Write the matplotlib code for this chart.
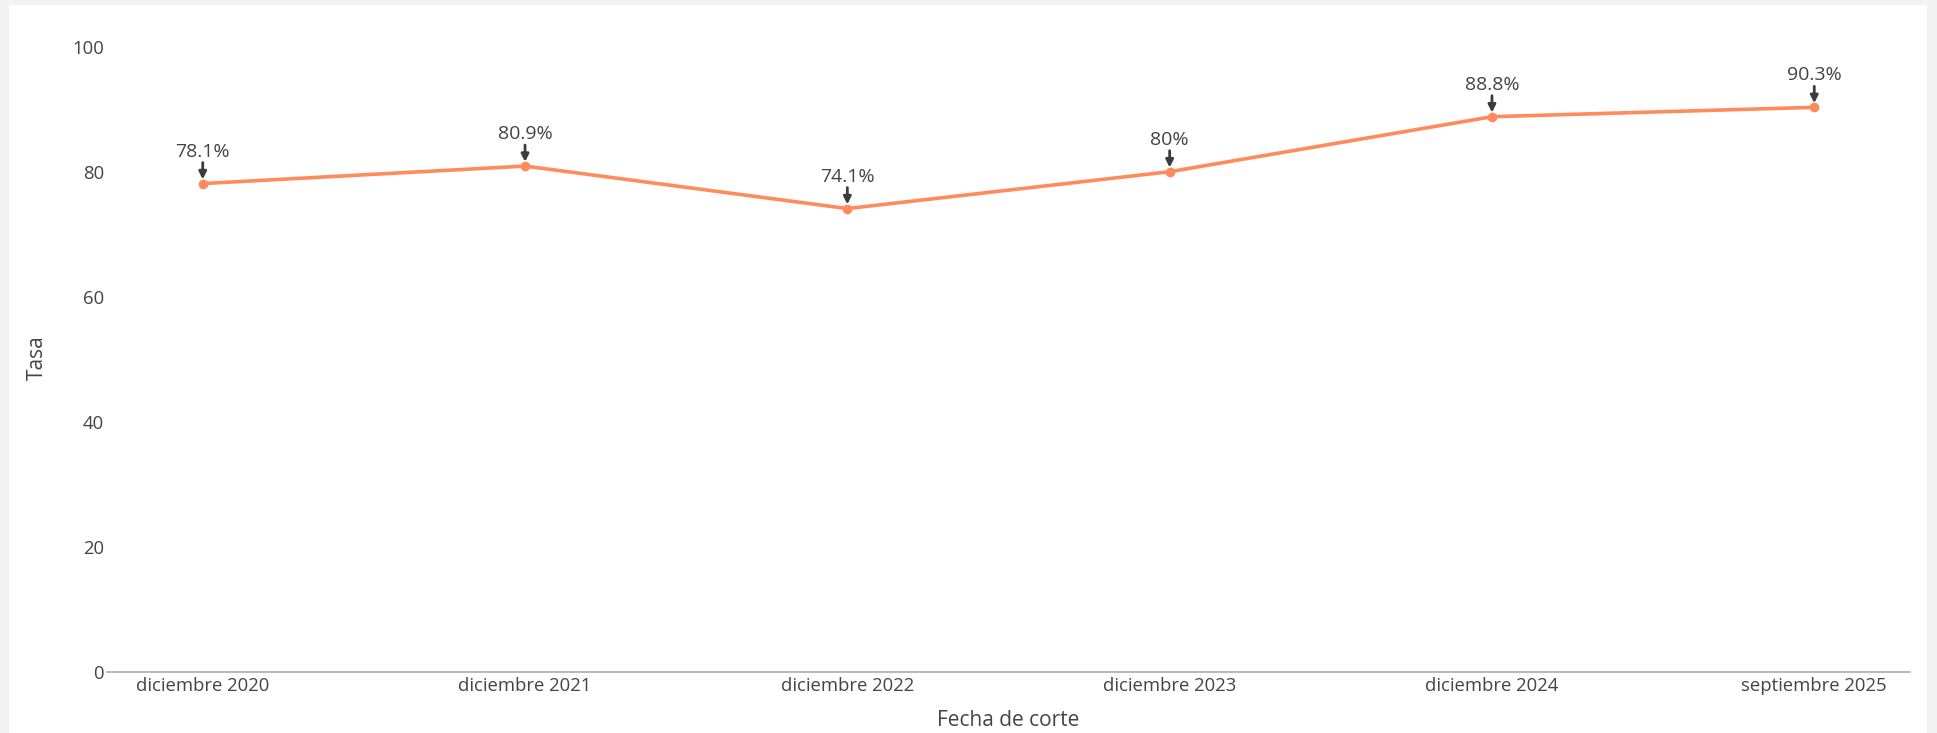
import matplotlib

matplotlib.use("Agg")

import matplotlib.pyplot as plt
from matplotlib.patches import Rectangle

# data
fechas = [
    "diciembre 2020",
    "diciembre 2021",
    "diciembre 2022",
    "diciembre 2023",
    "diciembre 2024",
    "septiembre 2025",
]
tasas = [78.1, 80.9, 74.1, 80.0, 88.8, 90.3]
etiquetas = ["78.1%", "80.9%", "74.1%", "80%", "88.8%", "90.3%"]
y_ticks = [0, 20, 40, 60, 80, 100]

LINE_COLOR = "#FF8A5B"
TEXT_COLOR = "#444444"
AXIS_LINE_COLOR = "#ADADAD"

W, H = 1937, 733
DPI = 100

plt.rcParams["font.family"] = ["Open Sans", "DejaVu Sans"]

fig = plt.figure(figsize=(W / DPI, H / DPI), dpi=DPI)
fig.patch.set_facecolor("#F2F2F2")
# white card behind the chart
fig.add_artist(
    Rectangle((9 / W, 0), (1927 - 9) / W, (H - 5) / H, transform=fig.transFigure,
              facecolor="white", edgecolor="none", zorder=0)
)

left_px, right_px = 107, 1910
zero_px, top_px = 671.7, 46.7
ax_w_px = right_px - left_px
ax_h_px = zero_px - top_px
ax = fig.add_axes([left_px / W, (H - zero_px) / H, ax_w_px / W, ax_h_px / H])
ax.set_facecolor("none")

x = list(range(len(fechas)))
ax.plot(x, tasas, color=LINE_COLOR, linewidth=2.6, marker="o", markersize=7,
        markeredgewidth=0, zorder=3, clip_on=False)

for xi, yi, label in zip(x, tasas, etiquetas):
    ax.annotate("", xy=(xi, yi), xytext=(0, 21), textcoords="offset pixels",
                xycoords="data",
                arrowprops=dict(arrowstyle="-|>", color="#3C3C3C", lw=2.0,
                                shrinkA=0, shrinkB=3, mutation_scale=11),
                zorder=4, annotation_clip=False)
    ax.annotate(label, xy=(xi, yi), xytext=(0, 32), textcoords="offset pixels",
                ha="center", va="center", fontsize=14, color=TEXT_COLOR,
                annotation_clip=False)

ax.set_xlim(-0.297, len(fechas) - 1 + 0.297)
ax.set_ylim(0, 100)
ax.set_xticks(x)
ax.set_xticklabels(fechas)
ax.set_yticks(y_ticks)

for side in ["top", "right", "left"]:
    ax.spines[side].set_visible(False)
ax.spines["bottom"].set_color(AXIS_LINE_COLOR)
ax.spines["bottom"].set_linewidth(1.2)

ax.tick_params(axis="both", length=0, colors=TEXT_COLOR, labelsize=13.3)
ax.tick_params(axis="x", pad=4)
ax.tick_params(axis="y", pad=2)

ax.set_xlabel("Fecha de corte", fontsize=15, color=TEXT_COLOR, va="center")
ax.set_ylabel("Tasa", fontsize=15, color=TEXT_COLOR, va="center")
ax.xaxis.set_label_coords(0.5, -(721 - zero_px) / ax_h_px)
ax.yaxis.set_label_coords((37 - left_px) / ax_w_px, (zero_px - 358) / ax_h_px)

fig.savefig("out.png", dpi=DPI)
